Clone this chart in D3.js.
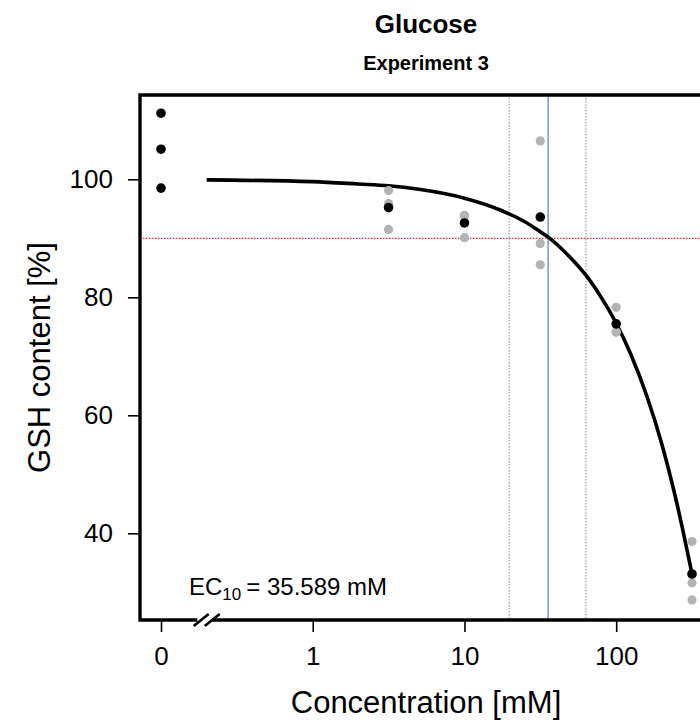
<!DOCTYPE html>
<html>
<head>
<meta charset="utf-8">
<script src="https://cdn.jsdelivr.net/npm/d3@7"></script>
<style>
  body { margin: 0; background: #fff; }
  svg { display: block; font-family: "Liberation Sans", Arial, sans-serif; }
</style>
</head>
<body>
<svg id="chart"></svg>
<script>
// Dose-response plot: GSH content vs. glucose concentration

// control (plotted at the "0" position, which sits at 0.1 on the log axis)
const controlPos = 0.1;
const controlValues = [111.2, 105.1, 98.5];

// treated concentrations [mM], single replicates (grey) and means (black)
const concentrations = [3.16, 10, 31.6, 100, 316];
const replicates = [
  [98.1, 95.9, 91.5],
  [93.9, 93.8, 90.1],
  [106.5, 89.1, 85.5],
  [78.3, 74.1, 74.1],
  [38.6, 31.6, 28.7]
];
const means = [95.2, 92.6, 93.6, 75.5, 33.1];

// fitted curve
const curveConc = [0.2, 1, 2, 3.16, 5, 10, 17.2, 25, 31.6, 35.6, 50, 63.3, 80, 100, 125, 160, 200, 250, 316];
const curveValue = [99.9, 99.6, 99.2, 98.9, 98.3, 96.8, 94.8, 92.8, 91.1, 90.2, 86.7, 83.7, 79.9, 75.6, 70.3, 63.1, 55.1, 45.3, 33.1];

// EC10 and its confidence limits
const ec10 = 35.589;
const ecLower = 19.7;
const ecUpper = 63.3;
const responseLevel = 90;

const xTicks = [0.1, 1, 10, 100];
const yTicks = [40, 60, 80, 100];
const breakAt = 0.2;

const margin = { top: 95, right: -12, bottom: 102, left: 140 };
const W = 700, H = 722;
const width = W - margin.left - margin.right;   // box runs past the right edge
const height = H - margin.top - margin.bottom;

const svg = d3.select("#chart").attr("width", W).attr("height", H);
const g = svg.append("g").attr("transform", "translate(" + margin.left + "," + margin.top + ")");

const x = d3.scaleLog().domain([0.0727, 428]).range([0, width]);
const y = d3.scaleLinear().domain([25.3, 114.29]).range([height, 0]);

// reference lines
g.append("line")
  .attr("x1", 0).attr("x2", width)
  .attr("y1", y(responseLevel)).attr("y2", y(responseLevel))
  .attr("stroke", "#ff0000").attr("stroke-width", 1).attr("stroke-dasharray", "1.5,1.5");

[ecLower, ecUpper].forEach(v => {
  g.append("line")
    .attr("x1", x(v)).attr("x2", x(v))
    .attr("y1", 0).attr("y2", height)
    .attr("stroke", "#8c8c8c").attr("stroke-width", 1).attr("stroke-dasharray", "1.5,1.5");
});

g.append("line")
  .attr("x1", x(ec10)).attr("x2", x(ec10))
  .attr("y1", 0).attr("y2", height)
  .attr("stroke", "#7f9ed6").attr("stroke-width", 1.6);

// fitted curve
const curvePts = curveConc.map((c, i) => [c, curveValue[i]]);
g.append("path")
  .datum(curvePts)
  .attr("fill", "none")
  .attr("stroke", "#000")
  .attr("stroke-width", 3.6)
  .attr("d", d3.line().x(d => x(d[0])).y(d => y(d[1])).curve(d3.curveMonotoneX));

// replicate points
const reps = [];
concentrations.forEach((c, i) => replicates[i].forEach(v => reps.push({ c: c, v: v })));

g.selectAll(".rep")
  .data(reps)
  .enter().append("circle")
  .attr("class", "rep")
  .attr("cx", d => x(d.c))
  .attr("cy", d => y(d.v))
  .attr("r", 4.6)
  .attr("fill", "#b3b3b3");

g.selectAll(".mean")
  .data(concentrations)
  .enter().append("circle")
  .attr("class", "mean")
  .attr("cx", d => x(d))
  .attr("cy", (d, i) => y(means[i]))
  .attr("r", 4.8)
  .attr("fill", "#000");

g.selectAll(".ctrl")
  .data(controlValues)
  .enter().append("circle")
  .attr("class", "ctrl")
  .attr("cx", x(controlPos))
  .attr("cy", d => y(d))
  .attr("r", 4.8)
  .attr("fill", "#000");

// axes
const xAxis = g.append("g")
  .attr("transform", "translate(0," + height + ")")
  .call(d3.axisBottom(x).tickValues(xTicks).tickSize(12).tickPadding(15)
    .tickFormat(d => d === controlPos ? "0" : d3.format("d")(d)));
const yAxis = g.append("g")
  .call(d3.axisLeft(y).tickValues(yTicks).tickSize(12).tickPadding(15));

[xAxis, yAxis].forEach(a => {
  a.select(".domain").remove();
  a.selectAll(".tick line").attr("stroke", "#000").attr("stroke-width", 1.6);
  a.selectAll(".tick text").attr("fill", "#000").style("font-size", "26px");
});

// box with axis break on the bottom
const bx = x(breakAt);
const lw = 3.4;
g.append("path")
  .attr("fill", "none").attr("stroke", "#000").attr("stroke-width", lw)
  .attr("stroke-linecap", "square")
  .attr("d", "M" + (bx - 11) + "," + height + "H0V0H" + width + "V" + height + "H" + (bx + 7));
[-6, 5].forEach(o => {
  g.append("line")
    .attr("x1", bx + o - 7).attr("y1", height + 6)
    .attr("x2", bx + o + 8).attr("y2", height - 6)
    .attr("stroke", "#000").attr("stroke-width", 2.6);
});

// EC10 label
const ecText = g.append("text")
  .attr("x", 49).attr("y", height - 25)
  .style("font-size", "24px");
ecText.append("tspan").text("EC");
ecText.append("tspan").attr("dy", 5).style("font-size", "17px").text("10");
ecText.append("tspan").attr("dy", -5).attr("dx", 5).text("= 35.589 mM");

// titles
const cx = margin.left + width / 2;
svg.append("text")
  .attr("x", cx).attr("y", 33)
  .attr("text-anchor", "middle")
  .style("font-size", "26px").style("font-weight", "bold")
  .text("Glucose");
svg.append("text")
  .attr("x", cx).attr("y", 70)
  .attr("text-anchor", "middle")
  .style("font-size", "20px").style("font-weight", "bold")
  .text("Experiment 3");

svg.append("text")
  .attr("x", cx).attr("y", 713)
  .attr("text-anchor", "middle")
  .style("font-size", "31px")
  .text("Concentration [mM]");

svg.append("text")
  .attr("transform", "translate(50," + (margin.top + height / 2) + ") rotate(-90)")
  .attr("text-anchor", "middle")
  .style("font-size", "31px")
  .text("GSH content [%]");
</script>
</body>
</html>
